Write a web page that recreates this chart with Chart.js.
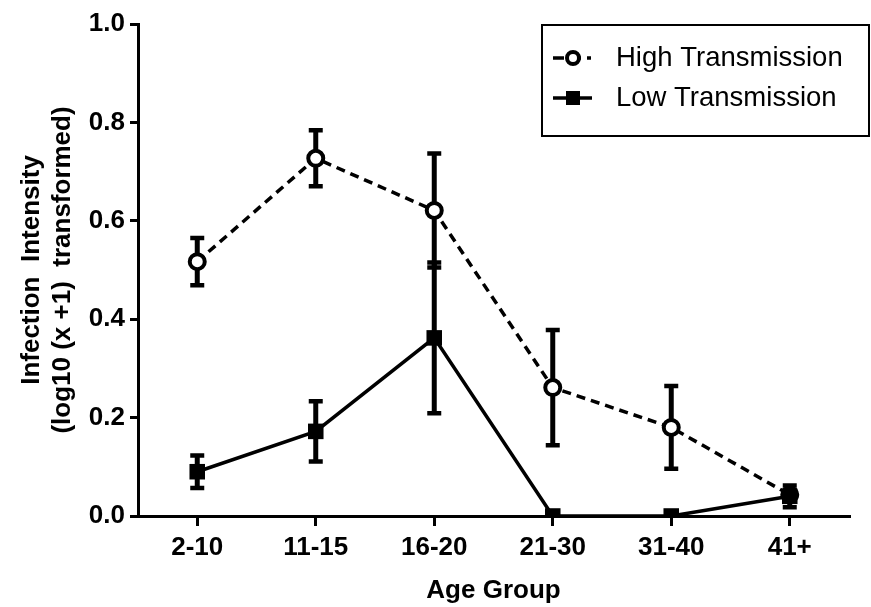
<!DOCTYPE html>
<html>
<head>
<meta charset="utf-8">
<title>Infection intensity by age group</title>
<script src="https://cdn.jsdelivr.net/npm/chart.js@4.4.1/dist/chart.umd.min.js"></script>
<style>
  html, body { margin: 0; padding: 0; background: #fff; }
  #wrap { width: 871px; height: 607px; }
</style>
</head>
<body>
<div id="wrap"><canvas id="graficoIdade" width="871" height="607"></canvas></div>
<script>
// age groups on the x axis
const ageGroups = ["2-10", "11-15", "16-20", "21-30", "31-40", "41+"];

// high transmission: mean and error (+/-)
const highMeans = [0.517, 0.727, 0.621, 0.261, 0.18, 0.043];
const highErrors = [0.048, 0.057, 0.116, 0.117, 0.084, 0.01];

// low transmission: mean and error (+/-)
const lowMeans = [0.09, 0.172, 0.362, 0, 0, 0.04];
const lowErrors = [0.033, 0.061, 0.153, 0, 0, 0.022];

const legendNames = ["High Transmission", "Low Transmission"];

const fonteNegrito = { family: "'Liberation Sans', Arial, sans-serif", size: 26, weight: "bold", lineHeight: 1.2 };

// error bars drawn under the markers
const barrasErro = {
  id: "barrasErro",
  beforeDatasetsDraw(chart) {
    const ctx = chart.ctx;
    const y = chart.scales.y;
    chart.data.datasets.forEach((ds, i) => {
      const meta = chart.getDatasetMeta(i);
      ds.erros.forEach((e, j) => {
        if (!e) return;
        const px = meta.data[j].x;
        const topo = y.getPixelForValue(ds.data[j] + e);
        const base = y.getPixelForValue(ds.data[j] - e);
        ctx.save();
        ctx.strokeStyle = "#000";
        ctx.lineWidth = 5;
        ctx.beginPath();
        ctx.moveTo(px, topo);
        ctx.lineTo(px, base);
        ctx.stroke();
        ctx.lineWidth = 4.5;
        ctx.beginPath();
        ctx.moveTo(px - 7, topo);
        ctx.lineTo(px + 7, topo);
        ctx.moveTo(px - 7, base);
        ctx.lineTo(px + 7, base);
        ctx.stroke();
        ctx.restore();
      });
    });
  },
};

// boxed legend in the upper right corner
const legendaCaixa = {
  id: "legendaCaixa",
  afterDraw(chart) {
    const ctx = chart.ctx;
    ctx.save();
    ctx.strokeStyle = "#000";
    ctx.lineWidth = 2;
    ctx.strokeRect(542, 25, 327, 111);

    const linhas = [58, 98];
    // high transmission symbol
    ctx.lineWidth = 3.5;
    ctx.setLineDash([11, 6]);
    ctx.beginPath();
    ctx.moveTo(553, linhas[0]);
    ctx.lineTo(591, linhas[0]);
    ctx.stroke();
    ctx.setLineDash([]);
    ctx.beginPath();
    ctx.arc(573, linhas[0], 6, 0, Math.PI * 2);
    ctx.fillStyle = "#fff";
    ctx.fill();
    ctx.lineWidth = 4;
    ctx.stroke();

    // low transmission symbol
    ctx.lineWidth = 3.5;
    ctx.beginPath();
    ctx.moveTo(553, linhas[1]);
    ctx.lineTo(592, linhas[1]);
    ctx.stroke();
    ctx.fillStyle = "#000";
    ctx.fillRect(566, linhas[1] - 7, 14, 14);

    ctx.fillStyle = "#000";
    ctx.font = "27.5px 'Liberation Sans', Arial, sans-serif";
    ctx.textBaseline = "middle";
    legendNames.forEach((nome, i) => ctx.fillText(nome, 616, linhas[i]));
    ctx.restore();
  },
};

const graficoIdade = new Chart(document.getElementById("graficoIdade"), {
  type: "line",
  data: {
    labels: ageGroups,
    datasets: [
      {
        label: legendNames[0],
        data: highMeans,
        erros: highErrors,
        order: 1,
        borderColor: "#000",
        borderWidth: 3.5,
        borderDash: [9, 6],
        pointStyle: "circle",
        pointRadius: 7.5,
        pointBorderWidth: 4,
        pointBackgroundColor: "#fff",
        pointBorderColor: "#000",
        tension: 0,
      },
      {
        label: legendNames[1],
        data: lowMeans,
        erros: lowErrors,
        order: 0,
        borderColor: "#000",
        borderWidth: 3.5,
        pointStyle: "rect",
        pointRadius: 11,
        pointBorderWidth: 0,
        pointBackgroundColor: "#000",
        pointBorderColor: "#000",
        tension: 0,
      },
    ],
  },
  options: {
    responsive: false,
    animation: false,
    layout: { padding: { top: 24, right: 22, bottom: 0, left: 0 } },
    plugins: {
      legend: { display: false },
      tooltip: { enabled: false },
    },
    scales: {
      x: {
        offset: true,
        afterFit: (scale) => { scale.height = 91; },
        grid: {
          offset: false,
          drawOnChartArea: false,
          drawTicks: true,
          tickLength: 10,
          lineWidth: 3,
          color: "#000",
        },
        border: { display: true, color: "#000", width: 3 },
        ticks: { color: "#000", font: fonteNegrito, padding: 6, maxRotation: 0 },
        title: {
          display: true,
          text: "Age Group",
          color: "#000",
          font: fonteNegrito,
          padding: { top: 0, bottom: 1 },
        },
      },
      y: {
        min: 0,
        max: 1,
        afterFit: (scale) => { scale.width = 138; },
        grid: {
          drawOnChartArea: false,
          drawTicks: true,
          tickLength: 8,
          lineWidth: 3,
          color: "#000",
        },
        border: { display: true, color: "#000", width: 3 },
        ticks: {
          stepSize: 0.2,
          color: "#000",
          font: fonteNegrito,
          padding: 5,
          callback: (v) => v.toFixed(1),
        },
        title: {
          display: true,
          text: ["Infection  Intensity", "(log10 (x +1)  transformed)"],
          color: "#000",
          font: fonteNegrito,
          padding: { top: 16, bottom: 0 },
        },
      },
    },
  },
  plugins: [barrasErro, legendaCaixa],
});
</script>
</body>
</html>
